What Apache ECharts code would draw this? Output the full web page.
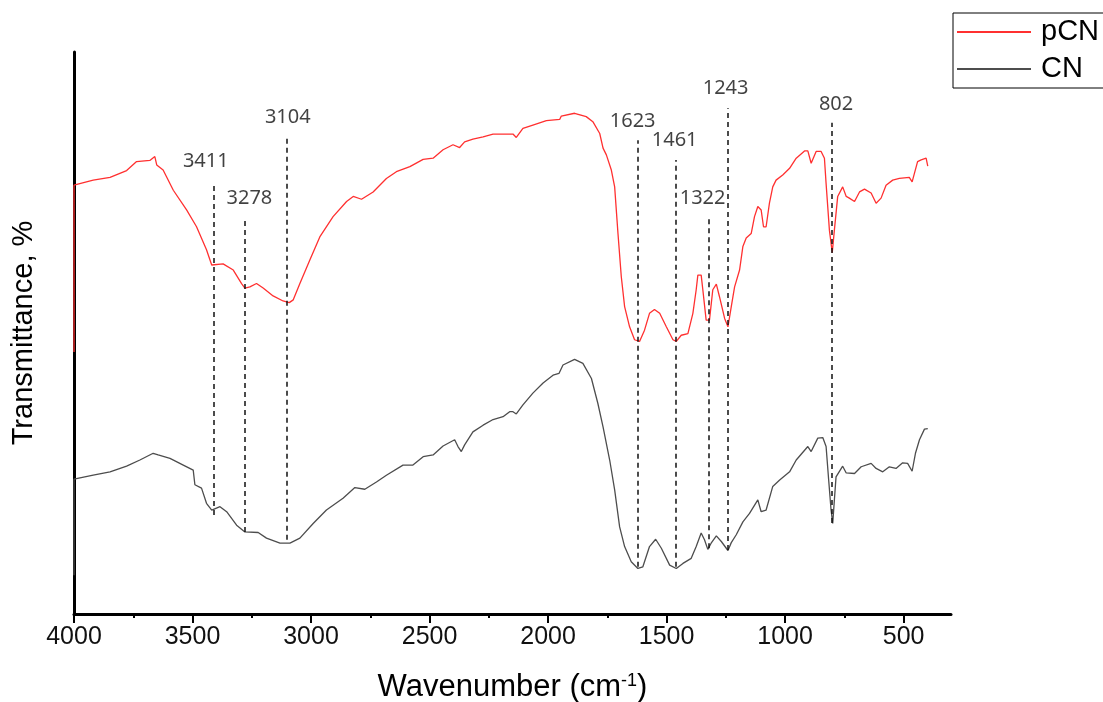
<!DOCTYPE html>
<html>
<head>
<meta charset="utf-8">
<script src="https://cdn.jsdelivr.net/npm/echarts@6/dist/echarts.min.js"></script>
<style>
  html, body { margin: 0; padding: 0; background: #fff; }
  #chart { width: 1103px; height: 702px; }
</style>
</head>
<body>
<div id="chart"></div>
<script>
// FTIR spectra, wavenumber (cm-1) vs transmittance (arbitrary %, offset curves)
var pcnWave = [4000, 4000, 3919, 3848, 3778, 3736, 3680, 3659, 3651, 3624,
  3581, 3525, 3483, 3441, 3419, 3371, 3328, 3293, 3279, 3258,
  3230, 3202, 3160, 3118, 3092, 3075, 3047, 3005, 2963, 2907,
  2850, 2822, 2787, 2738, 2682, 2640, 2583, 2527, 2485, 2443,
  2401, 2373, 2352, 2317, 2274, 2232, 2148, 2134, 2106, 2064,
  2007, 1951, 1944, 1888, 1839, 1811, 1782, 1768, 1754, 1733,
  1719, 1705, 1691, 1677, 1656, 1635, 1614, 1593, 1572, 1551,
  1529, 1501, 1473, 1459, 1438, 1410, 1389, 1375, 1368, 1354,
  1347, 1333, 1319, 1305, 1290, 1277, 1255, 1241, 1227, 1213,
  1192, 1178, 1164, 1143, 1129, 1115, 1101, 1091, 1080, 1066,
  1052, 1038, 1010, 981, 953, 918, 904, 890, 869, 848,
  834, 827, 813, 801, 792, 778, 757, 742, 729, 707,
  686, 665, 637, 616, 595, 574, 546, 518, 476, 464,
  441, 426, 419, 405, 398]
var pcnT = [46.6, 76.3, 77.2, 77.7, 78.9, 80.5, 80.7, 81.4, 79.9, 79.0,
  75.4, 71.9, 68.9, 64.8, 62.1, 62.3, 61.2, 58.8, 58.0, 58.2,
  58.8, 58.0, 56.6, 55.7, 55.4, 55.9, 58.8, 63.0, 67.1, 70.7,
  73.4, 74.3, 73.8, 75.1, 77.5, 78.7, 79.6, 80.9, 81.1, 82.6,
  83.5, 83.0, 84.0, 84.5, 84.9, 85.4, 85.4, 84.8, 86.4, 87.0,
  87.8, 88.0, 88.6, 89.1, 88.5, 87.6, 85.5, 82.9, 81.7, 79.0,
  76.0, 67.7, 60.0, 54.7, 51.1, 48.8, 48.5, 50.5, 53.5, 54.2,
  53.5, 51.1, 48.8, 48.5, 49.6, 49.9, 53.5, 57.7, 60.3, 60.3,
  57.7, 52.3, 52.3, 57.7, 58.7, 56.5, 52.6, 51.1, 54.7, 58.2,
  61.2, 65.4, 66.9, 67.7, 70.7, 72.5, 71.9, 68.9, 68.9, 73.1,
  76.0, 77.2, 78.1, 79.3, 81.1, 82.4, 82.4, 80.2, 82.3, 82.3,
  81.1, 76.6, 68.3, 64.3, 68.3, 74.3, 76.0, 74.3, 74.0, 73.4,
  75.1, 75.6, 74.9, 73.1, 74.0, 76.3, 77.2, 77.5, 77.7, 76.9,
  80.5, 80.8, 80.5, 81.1, 79.7]

var cnWave = [4000, 4000, 3919, 3848, 3778, 3722, 3666, 3645, 3595, 3539,
  3497, 3490, 3462, 3441, 3419, 3384, 3356, 3314, 3279, 3223,
  3188, 3131, 3089, 3047, 2991, 2935, 2865, 2815, 2773, 2724,
  2682, 2612, 2570, 2527, 2485, 2443, 2394, 2380, 2366, 2352,
  2317, 2274, 2232, 2190, 2162, 2148, 2134, 2106, 2064, 2021,
  1979, 1954, 1937, 1888, 1853, 1817, 1790, 1768, 1740, 1719,
  1698, 1677, 1649, 1621, 1600, 1572, 1546, 1522, 1487, 1459,
  1431, 1396, 1375, 1354, 1340, 1326, 1312, 1290, 1269, 1241,
  1227, 1206, 1178, 1150, 1115, 1101, 1080, 1052, 1024, 981,
  953, 904, 890, 862, 841, 827, 816, 806, 799, 792,
  785, 757, 742, 707, 679, 637, 616, 588, 560, 532,
  504, 483, 464, 450, 433, 412, 398]
var cnT = [6.9, 24.0, 24.7, 25.3, 26.3, 27.4, 28.6, 28.3, 27.7, 26.5,
  25.6, 23.0, 22.4, 19.7, 18.5, 19.1, 18.2, 15.8, 14.6, 14.5,
  13.5, 12.6, 12.6, 13.5, 16.1, 18.5, 20.6, 22.5, 22.2, 23.5,
  24.7, 26.5, 26.5, 28.0, 28.3, 29.9, 31.0, 29.8, 28.9, 30.1,
  32.4, 33.6, 34.6, 35.1, 36.0, 36.0, 35.6, 37.2, 39.3, 41.1,
  42.5, 42.8, 44.3, 45.3, 44.6, 41.9, 37.5, 33.3, 27.4, 22.1,
  15.5, 12.0, 9.3, 8.1, 8.4, 12.0, 13.3, 11.7, 8.7, 8.1,
  9.0, 9.9, 12.0, 14.4, 13.2, 11.5, 12.6, 13.9, 12.9, 11.3,
  12.7, 14.1, 16.4, 17.9, 20.3, 18.2, 18.5, 22.7, 23.8, 25.3,
  27.4, 29.8, 28.9, 31.3, 31.4, 29.8, 23.8, 18.5, 16.1, 20.3,
  24.4, 26.3, 25.1, 25.0, 26.2, 26.8, 25.9, 25.3, 26.2, 25.9,
  26.9, 26.8, 25.4, 28.6, 31.0, 32.9, 33.0]

// peak markers: dashed line from bottom to top, label above
var peakWave = [3411, 3278, 3104, 1623, 1461, 1322, 1243, 802]
var peakTop = [76.7, 70.5, 84.9, 84.3, 80.8, 70.5, 90.0, 87.4]
var peakBottom = [17.6, 14.6, 13.2, 8.4, 8.4, 11.7, 11.4, 16.2]
var labelWave = [3444, 3260, 3098, 1643, 1466, 1348, 1251, 785]
var labelT = [80.6, 74.0, 88.3, 87.7, 84.3, 74.0, 93.6, 90.7]

var majorTicks = [4000, 3500, 3000, 2500, 2000, 1500, 1000, 500]
var minorTicks = [3750, 3250, 2750, 2250, 1750, 1250, 750]

function zip (xs, ys) {
  return xs.map(function (x, i) { return [x, ys[i]] })
}

var chart = echarts.init(document.getElementById('chart'))

var peakLines = peakWave.map(function (w, i) {
  return [{ coord: [w, peakBottom[i]] }, { coord: [w, peakTop[i]] }]
})
var peakLabels = labelWave.map(function (w, i) {
  return [w, labelT[i]]
})

chart.setOption({
  animation: false,
  backgroundColor: '#fff',
  grid: {
    left: 74,
    right: 152,
    top: 52,
    bottom: 88,
    containLabel: false,
    outerBoundsMode: 'none'
  },
  legend: {
    data: ['pCN', 'CN'],
    orient: 'vertical',
    left: 953,
    top: 13,
    icon: 'rect',
    itemWidth: 74,
    itemHeight: 2,
    itemGap: 7,
    padding: [4, 80, 4, 4],
    borderColor: '#000',
    borderWidth: 1,
    borderRadius: 0,
    selectedMode: false,
    textStyle: {
      fontFamily: 'Liberation Sans',
      fontSize: 29,
      color: '#000',
      lineHeight: 30,
      padding: [0, 0, 0, 5]
    }
  },
  xAxis: [{
    type: 'value',
    min: 300,
    max: 4000,
    inverse: true,
    position: 'bottom',
    name: 'Wavenumber (cm{sup|-1})',
    nameLocation: 'middle',
    nameGap: 58,
    nameTextStyle: {
      fontFamily: 'Liberation Sans',
      fontSize: 31,
      color: '#000',
      rich: {
        sup: { fontFamily: 'Liberation Sans', fontSize: 18, color: '#000', verticalAlign: 'top', padding: [0, 0, 13, 0] }
      }
    },
    axisLine: { onZero: false, lineStyle: { color: '#000', width: 3 } },
    axisTick: { customValues: majorTicks, length: 9, lineStyle: { color: '#000', width: 2 } },
    axisLabel: {
      customValues: majorTicks,
      margin: 11,
      fontFamily: 'Liberation Sans',
      fontSize: 25,
      color: '#111',
      formatter: function (v) { return String(v) }
    },
    splitLine: { show: false }
  }, {
    type: 'value',
    min: 300,
    max: 4000,
    inverse: true,
    position: 'bottom',
    axisLine: { show: false, onZero: false },
    axisTick: { customValues: minorTicks, length: 4, lineStyle: { color: '#000', width: 2 } },
    axisLabel: { show: false },
    splitLine: { show: false }
  }],
  yAxis: {
    type: 'value',
    min: 0,
    max: 100,
    name: 'Transmittance, %',
    nameLocation: 'middle',
    nameGap: 36,
    nameTextStyle: { fontFamily: 'Liberation Sans', fontSize: 29, color: '#000' },
    axisLine: { show: true, onZero: false, lineStyle: { color: '#000', width: 3 } },
    axisTick: { show: false },
    axisLabel: { show: false },
    splitLine: { show: false }
  },
  series: [{
    name: 'pCN',
    type: 'line',
    data: zip(pcnWave, pcnT),
    color: '#ff3030',
    showSymbol: false,
    symbol: 'none',
    lineStyle: { width: 1.3, color: '#ff3030' },
    markLine: {
      silent: true,
      symbol: 'none',
      label: { show: false },
      lineStyle: { color: '#111', type: [5, 4], width: 1.5 },
      data: peakLines
    }
  }, {
    name: 'CN',
    type: 'line',
    data: zip(cnWave, cnT),
    color: '#4d4d4d',
    showSymbol: false,
    symbol: 'none',
    lineStyle: { width: 1.3, color: '#4d4d4d' }
  }, {
    name: 'peaks',
    type: 'scatter',
    data: peakLabels,
    symbolSize: 0,
    silent: true,
    label: {
      show: true,
      position: 'inside',
      fontFamily: 'Noto Sans',
      fontSize: 20,
      color: '#111',
      formatter: function (p) { return String(peakWave[p.dataIndex]) }
    }
  }]
})
</script>
</body>
</html>
